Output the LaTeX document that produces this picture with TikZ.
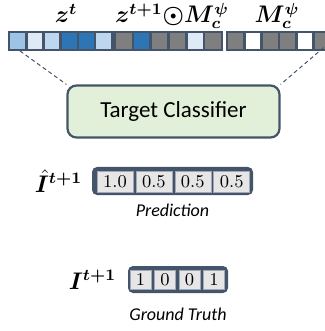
\documentclass[tikz,border=0pt]{standalone}
\usepackage{fontspec}
\usepackage{bm}
\newfontfamily\calibri{Carlito}
\usepackage{tikz}
\usetikzlibrary{positioning}
\definecolor{Slate}{HTML}{44546A}
\definecolor{Sky}{HTML}{9DC3E6}
\definecolor{Mist}{HTML}{DEEBF7}
\definecolor{Pale}{HTML}{BDD7EE}
\definecolor{Deep}{HTML}{2E75B6}
\definecolor{Ash}{HTML}{7F7F7F}
\definecolor{Sage}{HTML}{E2F0D9}
\definecolor{Chalk}{HTML}{E7E6E6}

\begin{document}
\begin{tikzpicture}[x=0.5pt,y=-0.5pt,
vcell/.style={draw=Slate,line width=1.3pt},
vframe/.style={rectangle,fill=Slate,rounded corners=2.5pt,inner sep=0pt},
vslot/.style={rectangle,fill=Chalk,draw=Slate!50,line width=0.3pt,inner sep=0pt,font=\fontsize{9}{10}\selectfont},
vtag/.style={inner sep=0pt,font=\fontsize{12}{14}\selectfont},
vnote/.style={inner sep=0pt,font=\calibri\itshape\fontsize{9}{11}\selectfont}]
\useasboundingbox (0,0) rectangle (325,331);
\clip (0,0) rectangle (325,331);

%%top vectors
\foreach \c [count=\i from 0] in {Sky,Mist,Pale,Deep,Deep,Pale}
{\draw[vcell,fill=\c] (9+\i*17.2,32) rectangle +(17.2,18);}
\foreach \c [count=\i from 0] in {Ash,Deep,Ash,Ash,Mist,Ash}
{\draw[vcell,fill=\c] (115+\i*17.8,32) rectangle +(17.8,18);}
\foreach \c [count=\i from 0] in {Ash,white,Ash,Ash,white,Ash}
{\draw[vcell,fill=\c] (227+\i*17.3,32) rectangle +(17.3,18);}
\node[vtag,anchor=base] (lzt) at (66,23) {$\bm{z^{t}}$};
\node[vtag,anchor=base] (lzm) at (172,23) {$\bm{z^{t+1}\mathord{\odot}M_c^{\psi}}$};
\node[vtag,anchor=base] (lmc) at (277,23) {$\bm{M_c^{\psi}}$};

%%classifier
\node[draw=Slate,fill=Sage,line width=1.1pt,rounded corners=4.5pt,minimum width=106pt,minimum height=26pt,
font=\calibri\fontsize{11.5}{14}\selectfont] (clf) at (173.5,111.5) {Target Classifier};
\coordinate (ztfoot) at (20,51);
\coordinate (mcfoot) at (329,43);
\draw[Slate,line width=0.5pt,dash pattern=on 2pt off 1.5pt] (ztfoot) -- (clf.north west);
\draw[Slate,line width=0.5pt,dash pattern=on 2pt off 1.5pt] (mcfoot) -- (clf.north east);

%%prediction
\node[vframe,minimum width=80.5pt,minimum height=14pt] (pbar) at (172.5,181) {};
\foreach \v [count=\i from 0] in {1.0,0.5,0.5,0.5}
{\node[vslot,minimum width=18pt,minimum height=10.5pt] (p\i) at (115+\i*38.9,181.5) {\v};}
\node[vtag,left=4.5pt of pbar] (ihat) {$\bm{\hat{I}^{t+1}}$};
\node[vnote,below=4pt of pbar] (pcap) {Prediction};

%%ground truth
\node[vframe,minimum width=50pt,minimum height=13.5pt] (gbar) at (178,279.5) {};
\foreach \v [count=\i from 0] in {1,0,0,1}
{\node[vslot,minimum width=10.5pt,minimum height=9.5pt] (g\i) at (140.5+\i*24.5,279.5) {\v};}
\node[vtag,left=5.5pt of gbar] (itrue) {$\bm{I^{t+1}}$};
\node[vnote,below=7pt of gbar] (gcap) {Ground Truth};
\end{tikzpicture}
\end{document}
